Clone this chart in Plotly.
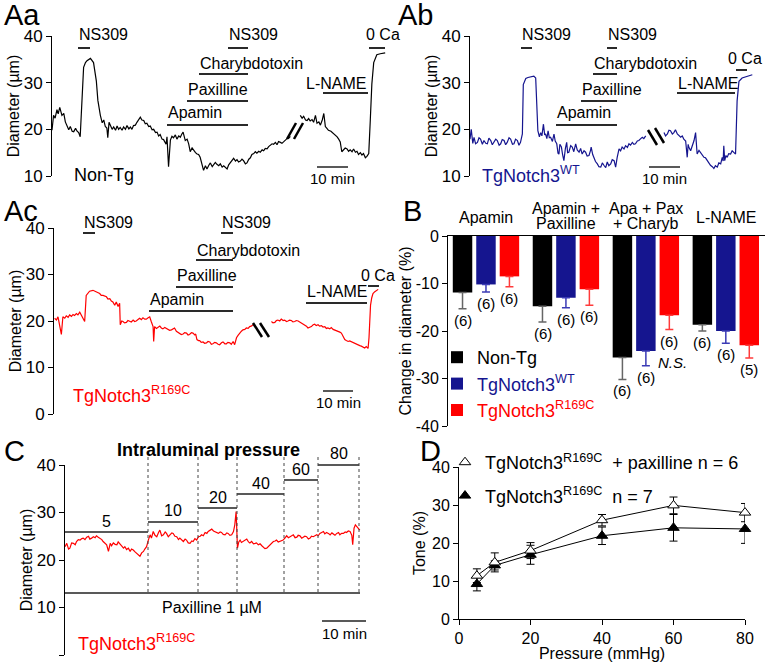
import plotly.graph_objects as go

W, H = 768, 662
FONT = "Liberation Sans, Arial, sans-serif"
NAVY = "#15158f"
RED = "#ff0000"
BAR_RED = "#ff0000"

# ---------------- Panel Aa : Non-Tg diameter trace (time in min, diameter in um)
aa_time = [0.0, 0.5, 1.0, 1.6, 2.0, 2.5, 3.2, 3.8, 4.3, 4.8, 5.4, 5.9, 6.5, 7.0, 7.6, 8.1, 8.6, 9.1, 9.7, 10.2,
           10.8, 11.3, 12.4, 13.4, 14.3, 14.8, 15.6, 16.2, 16.7, 17.2, 17.7, 18.0, 18.4, 18.8, 19.4, 19.9, 20.5,
           21.0, 21.5, 22.0, 22.6, 23.1, 23.7, 24.2, 24.8, 25.3, 25.8, 26.3, 26.9, 27.4, 28.0, 28.5, 29.0, 29.6,
           30.1, 30.6, 31.2, 31.7, 32.3, 32.8, 33.4, 33.9, 34.4, 34.9, 35.5, 36.0, 36.8, 37.1, 37.6, 38.2, 38.7,
           39.2, 39.8, 40.3, 40.9, 41.4, 41.9, 42.3, 43.0, 43.6, 44.1, 44.6, 45.2, 45.7, 46.3, 46.8, 47.3, 47.8,
           48.4, 48.9, 49.5, 50.0, 50.6, 51.1, 51.7, 52.2, 52.7, 53.2, 53.8, 54.3, 54.9, 55.4, 55.9, 56.5, 57.0,
           57.5, 58.1, 58.6, 59.2, 59.7, 60.2, 60.8, 61.3, 61.8, 62.4, 62.9, 63.5, 64.0, 64.5, 65.1, 65.6, 66.1,
           66.7, 67.2, 67.8, 68.3, 68.8, 69.4, 69.9, 70.4, 71.0, 71.5, 72.1, 72.6, 73.1, 73.7, 74.2, 74.7, 75.3,
           75.8, 76.4, 76.9, None, 80.1, 80.7, 81.2, 81.8, 82.3, 82.8, 83.3, 83.9, 84.4, 85.0, 85.5, 86.1, 86.6,
           87.2, 87.7, 88.2, 88.7, 89.2, 90.0, 90.9, 91.5, 92.0, 92.5, 93.0, 93.5, 94.1, 94.6, 95.2, 95.7, 96.2,
           96.8, 97.3, 97.9, 98.4, 98.9, 99.5, 100.0, 100.5, 101.1, 101.6, 102.2, 102.7, 103.2, 103.8, 104.3,
           104.8, 105.9, 106.7, 107.5]
aa_diam = [19.8, 23.0, 22.4, 24.2, 23.3, 24.7, 23.0, 23.4, 21.6, 20.8, 19.9, 20.6, 19.6, 19.5, 20.2, 19.6, 19.3,
           18.4, 26.0, 33.3, 34.3, 34.7, 35.2, 34.3, 30.4, 26.2, 23.0, 21.4, 22.0, 20.6, 20.3, 18.2, 21.5, 20.8,
           20.0, 20.5, 19.8, 20.7, 20.0, 20.4, 19.8, 20.5, 20.0, 20.8, 20.1, 20.5, 20.0, 20.8, 20.9, 21.5, 22.0,
           22.6, 22.0, 21.9, 21.2, 21.3, 20.6, 20.7, 19.9, 20.0, 19.3, 19.4, 18.6, 18.9, 17.9, 17.8, 16.8, 18.4,
           12.0, 17.7, 18.5, 18.2, 18.8, 17.9, 18.6, 18.3, 19.0, 19.4, 17.6, 17.9, 16.9, 15.2, 16.0, 15.4, 15.0,
           14.7, 14.6, 14.0, 12.3, 11.2, 12.2, 11.5, 12.3, 12.8, 12.0, 12.4, 12.9, 12.5, 12.2, 12.6, 11.9, 12.2,
           11.8, 11.5, 12.4, 12.8, 13.5, 13.8, 13.2, 13.5, 13.0, 13.2, 13.6, 13.3, 12.6, 12.8, 13.6, 13.9, 14.6,
           14.8, 15.2, 14.9, 15.3, 15.1, 15.6, 15.4, 15.9, 15.8, 16.3, 16.5, 16.9, 16.8, 17.2, 16.7, 17.4, 17.2,
           17.0, 17.3, 17.8, 18.0, 18.1, 18.5, None, 23.0, 22.4, 22.8, 22.0, 21.9, 22.3, 21.8, 22.1, 21.5, 23.0,
           21.3, 21.6, 20.9, 22.0, 23.4, 20.6, 20.2, 19.8, 19.6, 19.1, 18.8, 18.4, 17.9, 17.3, 15.2, 15.6, 16.0,
           15.8, 15.3, 15.6, 15.2, 15.8, 15.1, 15.3, 14.6, 15.0, 14.5, 14.8, 13.9, 14.2, 14.8, 22.0, 29.7, 34.3,
           35.4, 36.0, 36.2, 36.3, 36.4]

# ---------------- Panel Ab : TgNotch3 WT
ab_time = [0.0, 0.4, 0.9, 1.3, 1.8, 2.4, 2.9, 3.4, 4.0, 4.5, 5.1, 5.6, 6.1, 6.7, 7.2, 7.7, 8.3, 8.8, 9.4, 9.9,
           10.4, 11.0, 11.5, 12.0, 12.6, 13.1, 13.7, 14.2, 14.7, 15.3, 15.8, 16.3, 16.9, 17.2, 18.0, 18.7, 19.6,
           20.6, 21.2, 21.5, 21.9, 22.4, 22.8, 23.2, 23.7, 24.1, 24.4, 24.8, 25.2, 25.6, 26.0, 26.6, 27.1, 27.5,
           28.0, 28.4, 28.7, 29.0, 29.5, 29.9, 30.3, 30.8, 31.2, 31.5, 31.9, 32.5, 33.0, 33.5, 34.1, 34.6, 35.2,
           35.7, 36.2, 36.8, 37.3, 37.8, 38.4, 38.9, 39.1, 39.6, 40.0, 40.5, 41.1, 41.6, 42.2, 42.7, 43.2, 43.8,
           44.3, 44.8, 45.4, 45.9, 46.5, 47.0, 47.5, 48.1, 48.6, 49.1, 49.7, 50.2, 50.8, 51.3, 51.8, 52.4, 52.9,
           53.4, 54.0, 54.5, 55.1, 55.6, 56.1, 56.7, None, 62.6, 63.1, 63.7, 64.2, 64.7, 65.3, 65.8, 66.3, 66.9,
           67.4, 68.0, 68.5, 69.0, 69.6, 70.1, 70.4, 70.6, 71.2, 71.7, 72.3, 72.8, 73.1, 73.3, 73.9, 74.4, 74.9,
           75.5, 76.0, 76.6, 77.1, 77.6, 78.2, 78.7, 79.2, 79.8, 80.3, 80.9, 81.4, 81.7, 81.9, 82.2, 82.6, 83.0,
           83.5, 84.1, 84.6, 85.2, 85.7, 86.2, 86.8, 87.8, 89.5, 91.1]
ab_diam = [17.9, 20.0, 17.0, 18.3, 16.9, 17.2, 18.2, 17.9, 16.8, 17.6, 17.0, 16.9, 18.1, 17.6, 16.7, 17.2, 17.9,
           17.6, 16.6, 16.9, 17.8, 17.6, 16.7, 17.2, 18.2, 17.9, 16.8, 16.9, 17.9, 17.6, 16.6, 17.2, 19.0, 29.6,
           30.9, 31.1, 31.2, 31.4, 31.0, 26.0, 19.7, 18.4, 19.3, 18.6, 21.1, 18.8, 19.0, 18.0, 19.7, 18.2, 18.3,
           17.4, 19.0, 17.5, 16.9, 14.9, 14.7, 16.8, 16.2, 14.5, 13.3, 16.0, 17.2, 15.0, 15.1, 16.5, 16.2, 15.2,
           16.9, 15.6, 15.1, 15.9, 14.7, 15.4, 15.1, 14.3, 14.4, 15.5, 16.2, 14.6, 14.0, 13.1, 12.6, 12.0, 11.9,
           12.8, 12.3, 11.8, 13.0, 12.2, 12.6, 13.5, 13.3, 11.9, 14.0, 15.8, 15.4, 16.2, 15.8, 16.5, 16.1, 16.9,
           16.6, 17.2, 16.8, 16.9, 17.5, 17.6, 18.0, 18.3, 18.0, 18.6, None, 19.3, 18.6, 19.0, 19.8, 19.7, 19.0,
           19.3, 19.9, 19.0, 18.6, 18.3, 18.6, 17.9, 17.5, 14.0, 16.8, 16.2, 15.4, 16.5, 17.6, 19.3, 15.2, 14.7,
           15.5, 15.1, 14.6, 14.0, 13.9, 13.3, 12.9, 12.3, 12.0, 11.6, 12.2, 11.9, 12.8, 12.6, 14.0, 13.2, 16.5,
           13.3, 14.4, 14.0, 14.8, 14.7, 15.4, 15.1, 14.7, 26.1, 30.3, 31.0, 31.4, 31.7]

# ---------------- Panel Ac : TgNotch3 R169C
ac_time = [0.2, 0.8, 1.3, 1.8, 2.4, 2.9, 3.5, 4.0, 4.6, 5.1, 5.7, 6.2, 6.7, 7.3, 7.8, 8.4, 8.9, 9.5, 10.0, 10.5,
           11.1, 11.6, 12.7, 13.8, 14.9, 15.4, 16.0, 17.1, 17.6, 18.2, 18.7, 19.2, 19.8, 20.3, 20.9, 21.4, 21.6,
           22.1, 22.5, 23.0, 23.6, 24.1, 24.7, 25.2, 25.8, 26.3, 26.8, 27.4, 27.9, 28.5, 29.0, 29.6, 30.1, 30.7,
           31.2, 31.7, 32.3, 32.5, 32.8, 33.4, 33.9, 34.5, 35.0, 35.5, 36.1, 36.6, 37.2, 37.7, 38.3, 38.8, 39.3,
           39.9, 40.4, 41.0, 41.5, 42.1, 42.6, 43.2, 43.7, 44.2, 44.8, 45.3, 45.9, 46.2, 46.6, 47.1, 47.5, 48.0,
           48.6, 49.1, 49.7, 50.2, 50.8, 51.3, 51.8, 52.4, 52.9, 53.5, 54.0, 54.6, 55.1, 55.7, 56.2, 56.7, 57.3,
           57.8, 58.4, 58.9, 59.5, 60.0, 60.5, 61.1, 61.6, 62.2, 62.7, 63.3, 63.8, 64.3, 64.9, None, 70.9, 71.4,
           72.0, 72.5, 73.0, 73.6, 74.1, 74.7, 75.2, 75.8, 76.3, 76.8, 77.4, 77.9, 78.5, 79.0, 79.6, 80.1, 80.7,
           81.2, 81.7, 82.3, 82.8, 83.4, 83.9, 84.5, 85.0, 85.5, 86.1, 86.6, 87.2, 87.7, 88.3, 88.8, 89.3, 89.9,
           90.4, 91.0, 91.5, 92.1, 92.6, 93.2, 93.7, 94.2, 94.8, 95.3, 95.9, 96.4, 97.0, 97.5, 98.0, 98.6, 99.1,
           99.7, 100.2, 100.8, 101.3, 101.8, 102.4, 102.7, 103.2, 103.6, 104.0, 104.6, 105.1, 105.7]
ac_diam = [20.6, 20.2, 20.9, 19.2, 17.1, 20.9, 20.6, 21.1, 20.8, 21.3, 21.0, 21.4, 21.2, 21.6, 21.3, 21.9, 21.3,
           20.6, 19.9, 25.5, 26.0, 26.4, 26.6, 26.2, 25.9, 25.5, 25.5, 25.2, 24.7, 24.8, 24.3, 24.1, 23.4, 24.1,
           23.1, 23.8, 19.2, 20.0, 19.9, 19.6, 19.7, 20.1, 20.0, 19.8, 20.2, 19.9, 20.0, 20.4, 20.6, 20.3, 20.7,
           20.4, 20.4, 20.7, 20.9, 19.9, 18.8, 15.6, 18.8, 18.4, 18.6, 18.9, 18.5, 18.3, 18.6, 18.4, 18.3, 18.0,
           18.1, 18.4, 18.5, 17.8, 17.6, 17.4, 17.1, 17.2, 17.5, 17.4, 17.0, 17.1, 17.5, 17.4, 17.0, 17.2, 16.0,
           15.8, 15.8, 15.4, 15.5, 15.2, 15.3, 15.6, 15.5, 15.0, 15.1, 15.4, 15.3, 15.0, 14.9, 15.3, 15.5, 15.1,
           15.1, 15.4, 15.3, 15.0, 15.6, 14.9, 16.4, 16.9, 17.4, 17.8, 18.1, 18.2, 18.5, 18.4, 18.8, 18.9, 19.2,
           None, 19.9, 19.6, 19.7, 20.1, 20.2, 20.0, 20.4, 20.1, 20.2, 19.9, 20.0, 20.2, 20.1, 19.8, 19.9, 20.1,
           20.0, 19.8, 19.7, 19.5, 19.2, 18.9, 18.5, 18.7, 18.8, 19.2, 19.3, 19.0, 19.2, 18.9, 19.0, 18.7, 18.8,
           18.4, 18.5, 18.3, 18.6, 18.2, 18.1, 17.9, 17.8, 17.6, 17.4, 16.8, 16.0, 15.8, 15.6, 15.7, 15.5, 15.3,
           15.2, 15.0, 14.9, 14.7, 14.6, 14.3, 14.2, 14.5, 14.1, 16.4, 23.4, 25.0, 25.9, 26.3, 26.6, 26.8]

# ---------------- Panel B : change in diameter (%)
b_groups = ["Apamin", "Apamin + Paxilline", "Apa + Pax + Charyb", "L-NAME"]
b_header_lines = [["Apamin"], ["Apamin +", "Paxilline"], ["Apa + Pax", "+ Charyb"], ["L-NAME"]]
b_nontg = [-11.9, -14.8, -25.6, -18.7]
b_nontg_err = [3.4, 3.3, 4.6, 1.3]
b_nontg_n = [6, 6, 6, 6]
b_wt = [-10.2, -13.0, -24.2, -20.0]
b_wt_err = [1.6, 2.1, 3.1, 2.6]
b_wt_n = [6, 6, 6, 6]
b_r169c = [-8.5, -11.2, -16.7, -23.0]
b_r169c_err = [2.2, 3.4, 3.0, 2.7]
b_r169c_n = [6, 6, 6, 5]
b_ticks = [0, -10, -20, -30, -40]

# ---------------- Panel C : pressure steps in presence of paxilline
c_time = [0.0, 0.4, 0.8, 1.1, 1.5, 1.9, 2.3, 2.6, 3.0, 3.4, 3.8, 4.1, 4.5, 4.9, 5.3, 5.6, 6.0, 6.4, 6.8, 7.1,
          7.5, 7.9, 8.3, 8.6, 9.0, 9.4, 9.8, 10.0, 10.2, 10.5, 10.9, 11.3, 11.7, 12.0, 12.4, 12.8, 13.2, 13.5,
          13.9, 14.3, 14.7, 15.0, 15.4, 15.8, 16.2, 16.5, 16.9, 17.3, 17.7, 18.0, 18.4, 18.8, 19.2, 19.5, 19.9,
          20.3, 20.7, 21.1, 21.4, 21.8, 22.2, 22.6, 22.9, 23.3, 23.7, 24.1, 24.4, 24.8, 25.2, 25.6, 25.9, 26.3,
          26.7, 27.1, 27.4, 27.8, 28.2, 28.6, 28.9, 29.3, 29.7, 30.1, 30.5, 30.8, 31.2, 31.6, 32.0, 32.3, 32.7,
          33.1, 33.5, 33.8, 34.2, 34.6, 35.0, 35.3, 35.7, 36.1, 36.5, 36.8, 37.2, 37.6, 38.0, 38.3, 38.6, 38.7,
          38.9, 39.2, 39.5, 39.8, 40.2, 40.6, 41.0, 41.4, 41.7, 42.1, 42.5, 42.9, 43.2, 43.6, 44.0, 44.4, 44.7,
          45.1, 45.5, 45.9, 46.2, 46.6, 47.0, 47.4, 47.7, 48.1, 48.5, 48.9, 49.2, 49.6, 50.0, 50.4, 50.8, 51.1,
          51.5, 51.9, 52.3, 52.6, 53.0, 53.4, 53.8, 54.1, 54.5, 54.9, 55.3, 55.6, 56.0, 56.4, 56.8, 57.1, 57.5,
          57.9, 58.3, 58.6, 59.0, 59.4, 59.8, 60.2, 60.5, 60.9, 61.3, 61.7, 62.0, 62.4, 62.8, 63.2, 63.5, 63.9,
          64.3, 64.7, 64.9, 65.2, 65.5, 65.8, 66.2, 66.5]
c_diam = [22.8, 23.5, 22.3, 22.5, 23.6, 23.5, 23.2, 23.9, 24.3, 24.2, 24.5, 24.6, 24.3, 24.8, 25.0, 24.4, 24.6,
          24.9, 24.7, 25.1, 24.8, 24.6, 24.3, 23.9, 23.6, 23.2, 21.8, 22.6, 23.5, 23.0, 23.6, 23.3, 23.2, 23.8,
          23.4, 22.9, 22.5, 22.8, 22.2, 22.5, 21.8, 22.3, 22.1, 21.7, 21.4, 21.2, 20.8, 21.5, 21.8, 22.3, 22.8,
          24.2, 25.3, 24.6, 26.0, 25.2, 24.9, 25.8, 26.3, 25.1, 25.3, 25.9, 25.6, 24.9, 25.3, 25.7, 25.6, 25.0,
          24.9, 24.3, 24.6, 24.2, 23.9, 24.4, 24.2, 23.6, 23.5, 24.0, 23.9, 24.5, 24.2, 24.9, 25.0, 25.3, 25.1,
          25.8, 25.6, 26.0, 26.2, 26.5, 26.1, 26.0, 25.7, 25.6, 25.9, 25.8, 25.4, 25.3, 25.7, 25.6, 25.2, 25.3,
          26.0, 27.4, 30.2, 28.5, 22.5, 23.8, 24.2, 23.7, 23.9, 24.1, 24.4, 23.8, 23.6, 23.9, 23.4, 23.5, 23.6,
          23.2, 23.4, 23.0, 22.8, 22.4, 22.5, 22.9, 23.0, 23.5, 23.9, 24.0, 24.2, 23.8, 23.9, 24.0, 24.2, 24.6,
          25.1, 24.7, 24.9, 25.1, 25.3, 24.7, 24.8, 25.2, 25.1, 24.6, 24.8, 25.0, 24.9, 24.4, 24.6, 25.0, 24.9,
          25.2, 25.3, 25.1, 25.6, 25.8, 26.0, 25.5, 25.8, 25.6, 25.3, 25.7, 25.5, 25.2, 25.6, 25.8, 25.3, 25.6,
          25.6, 25.9, 25.8, 26.1, 26.0, 25.2, 23.2, 26.7, 27.4, 27.0, 26.6, 26.3]
c_pressures = [5, 10, 20, 40, 60, 80]

# ---------------- Panel D : myogenic tone
d_pressure = [5, 10, 20, 40, 60, 80]
d_tone_pax = [11.4, 14.9, 18.0, 26.0, 29.9, 28.0]
d_tone_pax_err = [1.8, 2.5, 2.1, 1.5, 2.2, 2.4]
d_tone_ctrl = [9.2, 14.1, 16.9, 21.9, 24.0, 23.7]
d_tone_ctrl_err = [1.8, 1.2, 2.5, 2.3, 3.5, 3.8]


# ---------------- helpers (pixel -> paper)
def px(x):
    return x / W


def py(y):
    return 1 - y / H


def txt(s, x, y, size=16, xa="left", ya="middle", color="black", **kw):
    return dict(text=s, x=px(x), y=py(y), xref="paper", yref="paper", xanchor=xa, yanchor=ya,
                showarrow=False, font=dict(size=size, color=color, family=FONT), **kw)


def hline(x0, x1, y, width=2, color="#222", dash=None):
    ln = dict(color=color, width=width)
    if dash:
        ln["dash"] = dash
    return dict(type="line", xref="paper", yref="paper", x0=px(x0), x1=px(x1), y0=py(y), y1=py(y), line=ln)


def seg(x0, y0, x1, y1, width=2.5, color="black", dash=None):
    ln = dict(color=color, width=width)
    if dash:
        ln["dash"] = dash
    return dict(type="line", xref="paper", yref="paper", x0=px(x0), x1=px(x1), y0=py(y0), y1=py(y1), line=ln)


fig = go.Figure()

# traces
fig.add_trace(go.Scatter(x=aa_time, y=aa_diam, mode="lines", line=dict(color="black", width=1.2),
                         xaxis="x", yaxis="y", showlegend=False))
fig.add_trace(go.Scatter(x=ab_time, y=ab_diam, mode="lines", line=dict(color=NAVY, width=1.2),
                         xaxis="x2", yaxis="y2", showlegend=False))
fig.add_trace(go.Scatter(x=ac_time, y=ac_diam, mode="lines", line=dict(color=RED, width=1.2),
                         xaxis="x3", yaxis="y3", showlegend=False))
fig.add_trace(go.Scatter(x=c_time, y=c_diam, mode="lines", line=dict(color=RED, width=1.2),
                         xaxis="x5", yaxis="y5", showlegend=False))

# bars (panel B)
gx = list(range(len(b_groups)))
bar_sets = [
    ("Non-Tg", b_nontg, b_nontg_err, "#000000", "#666666"),
    ('<span style="color:%s">TgNotch3<sup>WT</sup></span>' % NAVY, b_wt, b_wt_err, NAVY, "#3b3bb5"),
    ('<span style="color:%s">TgNotch3<sup>R169C</sup></span>' % BAR_RED, b_r169c, b_r169c_err, BAR_RED, "#ff3b3b"),
]
for name, vals, errs, col, ecol in bar_sets:
    fig.add_trace(go.Bar(x=gx, y=vals, name=name, marker=dict(color=col, line=dict(width=0)),
                         error_y=dict(type="data", symmetric=False, array=[0] * len(vals), arrayminus=errs,
                                      color=ecol, thickness=1.5, width=4),
                         xaxis="x4", yaxis="y4", legend="legend", showlegend=True))

# panel D
fig.add_trace(go.Scatter(x=d_pressure, y=d_tone_ctrl, mode="lines", line=dict(color="black", width=1),
                         xaxis="x6", yaxis="y6", showlegend=False, cliponaxis=False))
fig.add_trace(go.Scatter(x=d_pressure, y=d_tone_pax, mode="lines", line=dict(color="black", width=1),
                         xaxis="x6", yaxis="y6", showlegend=False, cliponaxis=False))
fig.add_trace(go.Scatter(x=d_pressure, y=d_tone_ctrl, mode="markers",
                         marker=dict(symbol="triangle-up", size=10, color="black", line=dict(color="black", width=1)),
                         error_y=dict(type="data", array=d_tone_ctrl_err, color="black", thickness=1, width=4),
                         name="TgNotch3<sup>R169C</sup>\u00a0 n = 7", legend="legend2", legendrank=2,
                         legendgroup="ctrl", xaxis="x6", yaxis="y6", cliponaxis=False))
fig.add_trace(go.Scatter(x=d_pressure, y=d_tone_pax, mode="markers",
                         marker=dict(symbol="triangle-up", size=10, color="white", line=dict(color="black", width=1)),
                         error_y=dict(type="data", array=d_tone_pax_err, color="black", thickness=1, width=4),
                         name="TgNotch3<sup>R169C</sup>\u00a0 + paxilline n = 6", legend="legend2", legendrank=1,
                         legendgroup="pax", xaxis="x6", yaxis="y6", cliponaxis=False))

# axes
yax_style = dict(showline=True, linecolor="black", linewidth=1, ticks="outside", ticklen=5, tickcolor="black",
                 tickwidth=1, showgrid=False, zeroline=False, automargin=False,
                 tickfont=dict(size=17, family=FONT, color="black"))
hidden_x = dict(visible=False, showgrid=False, zeroline=False)

layout = dict(
    width=W, height=H, margin=dict(l=0, r=0, t=0, b=0), paper_bgcolor="white", plot_bgcolor="rgba(0,0,0,0)",
    font=dict(family=FONT, color="black"), barmode="group", bargap=0.12, bargroupgap=0.17,
    xaxis=dict(domain=[px(52), px(392)], range=[0, 109.7], anchor="y", **hidden_x),
    yaxis=dict(domain=[py(176), py(36)], range=[10, 40], tickvals=[10, 20, 30, 40], anchor="x",
               title=dict(text="Diameter (µm)", font=dict(size=16), standoff=0), **yax_style),
    xaxis2=dict(domain=[px(470), px(765)], range=[0, 95.2], anchor="y2", **hidden_x),
    yaxis2=dict(domain=[py(176), py(36)], range=[10, 40], tickvals=[10, 20, 30, 40], anchor="x2",
                title=dict(text="Diameter (µm)", font=dict(size=16), standoff=0), **yax_style),
    xaxis3=dict(domain=[px(54), px(392)], range=[0, 110.2], anchor="y3", **hidden_x),
    yaxis3=dict(domain=[py(414), py(228)], range=[0, 40], tickvals=[0, 10, 20, 30, 40], anchor="x3",
                title=dict(text="Diameter (µm)", font=dict(size=16), standoff=0), **yax_style),
    xaxis4=dict(domain=[px(448), px(765)], range=[-0.475, 3.49], anchor="y4", side="top", showline=True,
                linecolor="black", linewidth=1, showticklabels=False, ticks="", showgrid=False, zeroline=False,
                automargin=False),
    yaxis4=dict(domain=[py(426), py(236)], range=[-40, 0], tickvals=b_ticks, ticktext=[str(v) for v in b_ticks],
                anchor="x4", title=dict(text="Change in diameter (%)", font=dict(size=16), standoff=0),
                **{**yax_style, "tickfont": dict(size=16, family=FONT, color="black")}),
    xaxis5=dict(domain=[px(65), px(370)], range=[0, 68.8], anchor="y5", **hidden_x),
    yaxis5=dict(domain=[py(655), py(465)], range=[0, 40], tickvals=[0, 10, 20, 30, 40], anchor="x5",
                title=dict(text="Diameter (µm)", font=dict(size=16), standoff=0), **yax_style),
    xaxis6=dict(domain=[px(459), px(745)], range=[0, 80], anchor="y6", tickvals=[0, 20, 40, 60, 80],
                title=dict(text="Pressure (mmHg)", font=dict(size=16), standoff=0),
                **{**yax_style, "tickfont": dict(size=16, family=FONT, color="black")}),
    yaxis6=dict(domain=[py(619), py(467)], range=[0, 40], tickvals=[0, 10, 20, 30, 40], anchor="x6",
                title=dict(text="Tone (%)", font=dict(size=16), standoff=2),
                **{**yax_style, "tickfont": dict(size=16, family=FONT, color="black")}),
    legend=dict(x=px(437), y=py(339), xanchor="left", yanchor="top", bgcolor="rgba(0,0,0,0)",
                font=dict(size=18, family=FONT, color="black"), tracegroupgap=2, itemwidth=30,
                traceorder="normal"),
    legend2=dict(x=px(445), y=py(444), xanchor="left", yanchor="top", bgcolor="rgba(0,0,0,0)",
                 font=dict(size=18, family=FONT, color="black"), tracegroupgap=7, itemwidth=30,
                 traceorder="grouped"),
)

ann = []
shapes = []

# panel letters
ann += [txt("Aa", 2, 15, size=29), txt("Ab", 396, 15, size=29), txt("Ac", 2, 211, size=29),
        txt("B", 401, 211, size=29), txt("C", 2, 451, size=29), txt("D", 418, 451, size=29)]

# drug application bars: (label, label_x, label_y, bar_x0, bar_x1, bar_y, anchor)
aa_drugs = [("NS309", 77, 35, 78, 90, 48, "left"), ("NS309", 227, 35, 228, 248, 48, "left"),
            ("Charybdotoxin", 198, 63, 199, 248, 74, "left"), ("Paxilline", 186, 89, 187, 248, 101, "left"),
            ("Apamin", 166, 113, 167, 248, 125, "left"), ("L-NAME", 368, 83, 323, 368, 93, "right"),
            ("0 Ca", 364, 35, 369, 385, 48, "left")]
ab_drugs = [("NS309", 520, 35, 521, 532, 48, "left"), ("NS309", 606, 35, 607, 617, 48, "left"),
            ("Charybdotoxin", 592, 63, 593, 617, 74, "left"), ("Paxilline", 580, 89, 581, 617, 101, "left"),
            ("Apamin", 555, 113, 556, 617, 125, "left"), ("L-NAME", 676, 83, 677, 735, 93, "left"),
            ("0 Ca", 726, 59, 736, 747, 70, "left")]
ac_drugs = [("NS309", 82, 222, 83, 95, 233, "left"), ("NS309", 220, 222, 221, 233, 233, "left"),
            ("Charybdotoxin", 195, 250, 196, 233, 260, "left"), ("Paxilline", 175, 275, 176, 233, 287, "left"),
            ("Apamin", 148, 299, 149, 233, 311, "left"), ("L-NAME", 305, 291, 306, 367, 303, "left"),
            ("0 Ca", 359, 275, 368, 379, 286, "left")]
for lst in (aa_drugs, ab_drugs, ac_drugs):
    for lab, lx, ly, x0, x1, by, anc in lst:
        ann.append(txt(lab, lx, ly, size=16, xa=anc))
        shapes.append(hline(x0, x1, by, width=2, color="#2a2a2a"))

# scale bars (10 min)
for x0, x1, y, ty in [(317, 348, 167, 178), (649, 680, 167, 178), (323, 353, 391, 402), (322, 366, 621, 633)]:
    shapes.append(hline(x0, x1, y, width=1.5, color="#222"))
    ann.append(txt("10 min", (x0 + x1) / 2, ty, size=15, xa="center"))

# break marks
shapes += [seg(287, 139, 296, 123), seg(294, 139, 303, 123)]
shapes += [seg(648, 130, 657, 145), seg(655, 128, 664, 143)]
shapes += [seg(253, 323, 262, 337), seg(260, 323, 269, 337)]

# strain labels
ann.append(txt("Non-Tg", 72, 175, size=18))
ann.append(txt("TgNotch3<sup>WT</sup>", 480, 188, size=18, ya="bottom", color=NAVY))
ann.append(txt("TgNotch3<sup>R169C</sup>", 71, 408, size=18, ya="bottom", color=RED))
ann.append(txt("TgNotch3<sup>R169C</sup>", 76, 656, size=18, ya="bottom", color=RED))

# panel B headers and n labels
for i, lines in enumerate(b_header_lines):
    if len(lines) == 1:
        ann.append(dict(text=lines[0], x=i, y=py(217), xref="x4", yref="paper", showarrow=False,
                        xanchor="center", yanchor="middle", font=dict(size=16, family=FONT)))
    else:
        for j, l in enumerate(lines):
            ann.append(dict(text=l, x=i, y=py(208 + 15 * j), xref="x4", yref="paper", showarrow=False,
                            xanchor="center", yanchor="middle", font=dict(size=16, family=FONT)))
offsets = [-0.293, 0.0, 0.293]
for k, (vals, errs, ns) in enumerate([(b_nontg, b_nontg_err, b_nontg_n), (b_wt, b_wt_err, b_wt_n),
                                      (b_r169c, b_r169c_err, b_r169c_n)]):
    for i in range(len(vals)):
        ann.append(dict(text="(%d)" % ns[i], x=i + offsets[k], y=vals[i] - errs[i], xref="x4", yref="y4",
                        showarrow=False, xanchor="center", yanchor="top", yshift=-1,
                        font=dict(size=15, family=FONT)))
ann.append(dict(text="<i>N.S.</i>", x=2.13, y=-26.7, xref="x4", yref="y4", showarrow=False, xanchor="left",
                yanchor="middle", font=dict(size=15, family=FONT)))

# panel C decorations
ann.append(txt("<b>Intraluminal pressure</b>", 208, 450, size=18, xa="center"))
ann.append(txt("Paxilline 1 µM", 212, 607, size=16, xa="center"))
c_steps = [(65, 148, 532), (148, 198, 522), (198, 237, 508), (237, 284, 494), (284, 318, 480), (318, 359, 465)]
for p, (x0, x1, y) in zip(c_pressures, c_steps):
    shapes.append(hline(x0, x1, y, width=1.5, color="#222"))
    ann.append(txt(str(p), (x0 + x1) / 2, y - 11, size=16, xa="center"))
for xv in [148, 198, 237, 284, 318, 359]:
    shapes.append(seg(xv, 457, xv, 593, width=1, color="#444", dash="dot"))
shapes.append(hline(65, 360, 593, width=1.5, color="#222"))

layout["annotations"] = ann
layout["shapes"] = shapes
fig.update_layout(**layout)
fig.write_html("out.html", config={"displayModeBar": False},
               post_script="document.body.style.margin='0';document.body.style.overflow='hidden';")
